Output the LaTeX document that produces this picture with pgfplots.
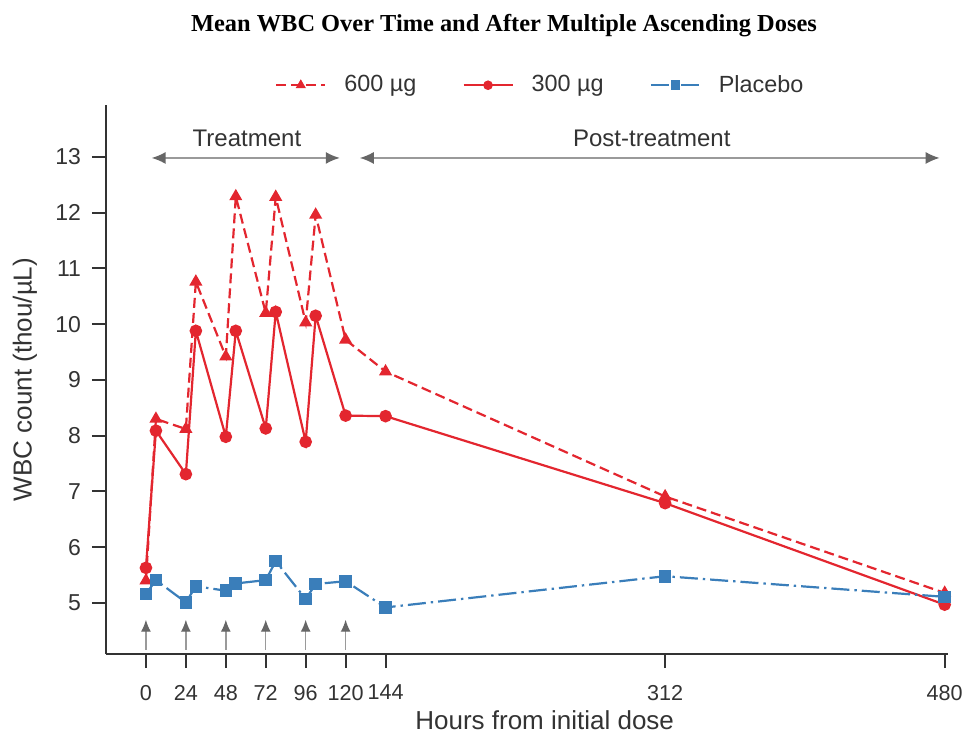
\documentclass[border=0pt]{standalone}
\usepackage{fontspec}
\setmainfont{Liberation Sans}
\newfontfamily\titlefont{Liberation Serif}
\usepackage{pgfplots}
\pgfplotsset{compat=1.18}
\usetikzlibrary{arrows.meta}

\definecolor{cred}{HTML}{E3262F}
\definecolor{cblue}{HTML}{3A7EBA}
\definecolor{cgray}{HTML}{666666}
\definecolor{cgrayl}{HTML}{9A9A9A}
\definecolor{spine}{HTML}{333333}

\begin{document}
\begin{tikzpicture}
% page = 973x733 px, 1 px = 0.5 pt, axis corner at px (106,654)
\useasboundingbox (-53pt,-39.5pt) rectangle (433.5pt,327pt);
\begin{axis}[
  at={(0pt,0pt)}, anchor=south west,
  scale only axis,
  width=421pt, height=274.5pt,
  xmin=-24, xmax=482,
  ymin=4.085, ymax=13.93,
  axis x line*=bottom, axis y line*=left,
  axis line style={spine, line width=1.25pt, -},
  xtick={0,24,48,72,96,120,144,312,480},
  ytick={5,6,...,13},
  tick style={spine, line width=1pt},
  tick align=outside,
  major tick length=7pt,
  /pgf/number format/assume math mode=true,
  xticklabel style={font=\fontsize{10.8}{13}\selectfont, text=spine, yshift=-5pt},
  yticklabel style={font=\fontsize{11.5}{13}\selectfont, text=spine, xshift=-2pt},
  xlabel={Hours from initial dose},
  ylabel={WBC count (thou/µL)},
  every axis x label/.style={at={(axis description cs:0.521,0)}, anchor=center,
    yshift=-33pt, font=\fontsize{13}{15}\selectfont, text=spine},
  every axis y label/.style={at={(axis description cs:0,0.5)}, anchor=center,
    xshift=-40.5pt, rotate=90, font=\fontsize{13}{15}\selectfont, text=spine},
  legend columns=3,
  legend style={at={(0.517,1.036)}, anchor=center, draw=none, fill=none,
    font=\fontsize{11.7}{14}\selectfont, text=spine,
    /tikz/every odd column/.append style={column sep=7pt},
    /tikz/every even column/.append style={column sep=21pt}},
  legend image code/.code={\draw[mark repeat=2,mark phase=2,#1,
    every mark/.append style={scale=0.7}]
    plot coordinates {(0pt,0pt) (12.25pt,0pt) (24.5pt,0pt)};},
  clip=false,
]
% dosing arrows
\addplot[forget plot, cgrayl, line width=0.7pt, no markers,
  -{Latex[color=cgray,length=6pt,width=5pt]}, quiver={u=0,v=0.54}]
  coordinates {(0,4.16) (24,4.16) (48,4.16) (72,4.16) (96,4.16) (120,4.16)};

\addplot[cred, line width=1.1pt, dash pattern=on 5pt off 2.5pt,
  mark=triangle*, mark size=2.7pt, mark options={solid}]
  coordinates {(0,5.40) (6,8.30) (24,8.12) (30,10.76) (48,9.42) (54,12.29) (72,10.20)
    (78,12.28) (96,10.03) (102,11.96) (120,9.72) (144,9.15) (312,6.91) (480,5.18)};
\addlegendentry{600 µg}

\addplot[cred, line width=1.1pt, solid,
  mark=*, mark size=2.6pt]
  coordinates {(0,5.63) (6,8.09) (24,7.31) (30,9.88) (48,7.98) (54,9.88) (72,8.13)
    (78,10.22) (96,7.89) (102,10.15) (120,8.36) (144,8.35) (312,6.79) (480,4.97)};
\addlegendentry{300 µg}

\addplot[cblue, line width=1.1pt, dash pattern=on 9pt off 2.5pt on 1.2pt off 2.5pt,
  mark=square*, mark size=2.6pt, mark options={solid}]
  coordinates {(0,5.16) (6,5.41) (24,5.01) (30,5.30) (48,5.22) (54,5.35) (72,5.41)
    (78,5.75) (96,5.07) (102,5.34) (120,5.39) (144,4.92) (312,5.48) (480,5.11)};
\addlegendentry{Placebo}

% phase annotations
\draw[cgrayl, line width=0.8pt, {Latex[color=cgray,length=7pt,width=6pt]}-{Latex[color=cgray,length=7pt,width=6pt]}]
  (axis cs:3.4,12.98) -- (axis cs:116.5,12.98);
\draw[cgrayl, line width=0.8pt, {Latex[color=cgray,length=7pt,width=6pt]}-{Latex[color=cgray,length=7pt,width=6pt]}]
  (axis cs:128.5,12.98) -- (axis cs:477,12.98);
\node[font=\fontsize{12}{14}\selectfont, text=spine] at (axis cs:60.7,13.34) {Treatment};
\node[font=\fontsize{12}{14}\selectfont, text=spine] at (axis cs:304,13.34) {Post-treatment};
\end{axis}
\node[font=\titlefont\bfseries\fontsize{12.2}{14}\selectfont] at (199pt,314pt)
  {Mean WBC Over Time and After Multiple Ascending Doses};
\end{tikzpicture}
\end{document}
